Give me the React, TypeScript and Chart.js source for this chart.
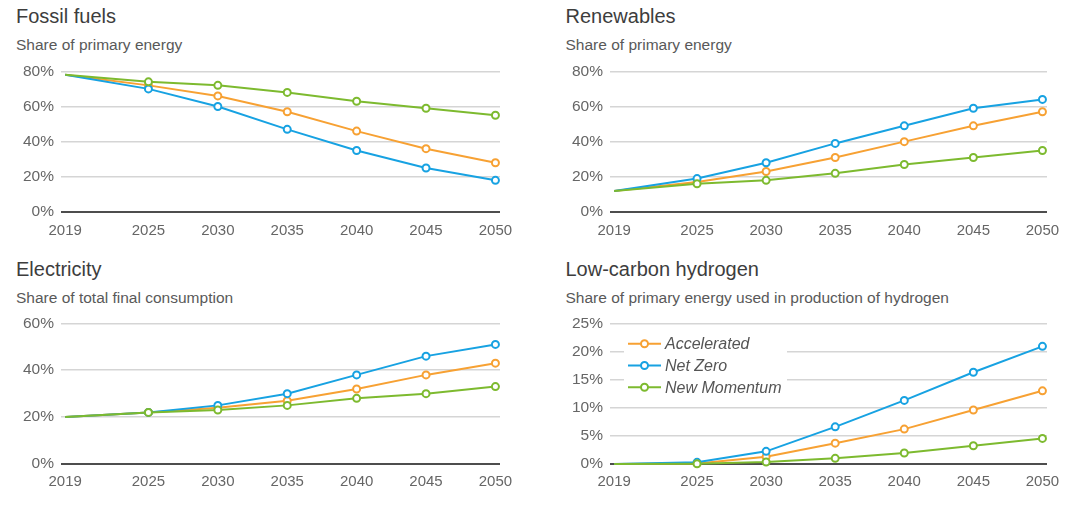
import React, { useEffect, useRef } from "react";
import { Chart, registerables } from "chart.js";

Chart.register(...registerables);

const years = [2019, 2025, 2030, 2035, 2040, 2045, 2050];
const seriesNames = ["Accelerated", "Net Zero", "New Momentum"];
const seriesColors = ["#f7a133", "#17a2e2", "#7dba2f"];

const fossilAccelerated = [78, 72, 66, 57, 46, 36, 28];
const fossilNetZero = [78, 70, 60, 47, 35, 25, 18];
const fossilNewMomentum = [78, 74, 72, 68, 63, 59, 55];

const renewAccelerated = [12, 17, 23, 31, 40, 49, 57];
const renewNetZero = [12, 19, 28, 39, 49, 59, 64];
const renewNewMomentum = [12, 16, 18, 22, 27, 31, 35];

const elecAccelerated = [20, 22, 24, 27, 32, 38, 43];
const elecNetZero = [20, 22, 25, 30, 38, 46, 51];
const elecNewMomentum = [20, 22, 23, 25, 28, 30, 33];

const h2Accelerated = [0, 0.1, 1.3, 3.7, 6.2, 9.6, 13.0];
const h2NetZero = [0, 0.3, 2.25, 6.6, 11.3, 16.3, 20.9];
const h2NewMomentum = [0, 0.05, 0.35, 1.0, 1.95, 3.25, 4.55];

const shareTicks = [0, 20, 40, 60, 80];
const elecTicks = [0, 20, 40, 60];
const h2Ticks = [0, 5, 10, 15, 20, 25];

const FONT = "'Liberation Sans', Arial, sans-serif";

const insetLegend = {
  id: "insetLegend",
  beforeDatasetsDraw(chart: any) {
    const { ctx, chartArea } = chart;
    const l = chartArea.left;
    const t = chartArea.top;
    ctx.save();
    ctx.fillStyle = "#ffffff";
    ctx.fillRect(l + 14, t + 5, 163, 70);
    seriesNames.forEach((name, i) => {
      const y = t + 20.5 + i * 21.7;
      ctx.strokeStyle = seriesColors[i];
      ctx.lineWidth = 2;
      ctx.beginPath();
      ctx.moveTo(l + 18, y);
      ctx.lineTo(l + 51, y);
      ctx.stroke();
      ctx.beginPath();
      ctx.arc(l + 34.5, y, 3.5, 0, Math.PI * 2);
      ctx.fillStyle = "#ffffff";
      ctx.fill();
      ctx.stroke();
      ctx.fillStyle = "#555555";
      ctx.font = "italic 16px " + FONT;
      ctx.textBaseline = "middle";
      ctx.textAlign = "left";
      ctx.fillText(name, l + 55, y + 1);
    });
    ctx.restore();
  },
};

type PanelProps = {
  title: string;
  subtitle: string;
  series: number[][];
  yTicks: number[];
  left: number;
  top: number;
  width: number;
  height: number;
  padTop: number;
  padRight: number;
  yWidth: number;
  xHeight: number;
  xPad: number;
  textLeft: number;
  titleTop: number;
  subtitleTop: number;
  legend?: boolean;
};

function Panel(p: PanelProps) {
  const ref = useRef<HTMLCanvasElement>(null);
  useEffect(() => {
    if (!ref.current) return;
    const yMax = p.yTicks[p.yTicks.length - 1];
    const chart = new Chart(ref.current, {
      type: "line",
      data: {
        datasets: p.series.map((vals, i) => ({
          label: seriesNames[i],
          data: years.map((yr, j) => ({ x: yr, y: vals[j] })),
          borderColor: seriesColors[i],
          backgroundColor: "#ffffff",
          borderWidth: 2,
          pointRadius: (c: any) => (c.dataIndex === 0 ? 0 : 3.5),
          pointBorderWidth: 2,
          pointBorderColor: seriesColors[i],
          pointBackgroundColor: "#ffffff",
          order: 3 - i,
          clip: false as any,
          tension: 0,
        })),
      },
      options: {
        animation: false,
        responsive: false,
        events: [],
        layout: { padding: { top: p.padTop, right: p.padRight, left: 0, bottom: 0 } },
        plugins: { legend: { display: false }, tooltip: { enabled: false } },
        scales: {
          x: {
            type: "linear",
            min: 2018.7,
            max: 2050.33,
            afterBuildTicks: (s: any) => {
              s.ticks = years.map((v) => ({ value: v }));
            },
            afterFit: (s: any) => {
              s.height = p.xHeight;
            },
            grid: { display: false, drawTicks: false },
            border: { display: false },
            ticks: {
              padding: p.xPad,
              maxRotation: 0,
              autoSkip: false,
              color: "#666666",
              font: { family: FONT, size: 15 },
              callback: (v: any) => String(v),
            },
          },
          y: {
            min: 0,
            max: yMax,
            afterBuildTicks: (s: any) => {
              s.ticks = p.yTicks.map((v) => ({ value: v }));
            },
            afterFit: (s: any) => {
              s.width = p.yWidth;
            },
            grid: {
              drawTicks: false,
              color: (c: any) => (c.tick && c.tick.value === 0 ? "#4d4d4d" : "#d5d5d5"),
              lineWidth: (c: any) => (c.tick && c.tick.value === 0 ? 2 : 1.5),
            },
            border: { display: false },
            ticks: {
              padding: 7,
              color: "#666666",
              font: { family: FONT, size: 15.5 },
              callback: (v: any) => v + "%",
            },
          },
        },
      },
      plugins: p.legend ? [insetLegend] : [],
    });
    return () => chart.destroy();
  }, []);

  return (
    <>
      <div
        style={{
          position: "absolute",
          left: p.textLeft,
          top: p.titleTop,
          fontFamily: FONT,
          fontSize: 20,
          lineHeight: "20px",
          color: "#3d3d3d",
          whiteSpace: "nowrap",
        }}
      >
        {p.title}
      </div>
      <div
        style={{
          position: "absolute",
          left: p.textLeft,
          top: p.subtitleTop,
          fontFamily: FONT,
          fontSize: 15.5,
          lineHeight: "15.5px",
          color: "#595959",
          whiteSpace: "nowrap",
        }}
      >
        {p.subtitle}
      </div>
      <canvas
        ref={ref}
        width={p.width}
        height={p.height}
        style={{ position: "absolute", left: p.left, top: p.top, width: p.width, height: p.height }}
      />
    </>
  );
}

export default function App() {
  return (
    <div
      style={{
        position: "absolute",
        left: 0,
        top: 0,
        width: 1087,
        height: 508,
        background: "#ffffff",
        overflow: "hidden",
      }}
    >
      <Panel
        title="Fossil fuels"
        subtitle="Share of primary energy"
        series={[fossilAccelerated, fossilNetZero, fossilNewMomentum]}
        yTicks={shareTicks}
        left={0}
        top={55}
        width={543}
        height={195}
        padTop={16}
        padRight={43}
        yWidth={61}
        xHeight={38}
        xPad={10}
        textLeft={16}
        titleTop={5.8}
        subtitleTop={36.9}
      />
      <Panel
        title="Renewables"
        subtitle="Share of primary energy"
        series={[renewAccelerated, renewNetZero, renewNewMomentum]}
        yTicks={shareTicks}
        left={545}
        top={55}
        width={542}
        height={195}
        padTop={16}
        padRight={40}
        yWidth={65}
        xHeight={38}
        xPad={10}
        textLeft={565.5}
        titleTop={5.8}
        subtitleTop={36.9}
      />
      <Panel
        title="Electricity"
        subtitle="Share of total final consumption"
        series={[elecAccelerated, elecNetZero, elecNewMomentum]}
        yTicks={elecTicks}
        left={0}
        top={307}
        width={543}
        height={201}
        padTop={16}
        padRight={43}
        yWidth={61}
        xHeight={44}
        xPad={9}
        textLeft={16}
        titleTop={259.1}
        subtitleTop={290.2}
      />
      <Panel
        title="Low-carbon hydrogen"
        subtitle="Share of primary energy used in production of hydrogen"
        series={[h2Accelerated, h2NetZero, h2NewMomentum]}
        yTicks={h2Ticks}
        left={545}
        top={307}
        width={542}
        height={201}
        padTop={16}
        padRight={40}
        yWidth={65}
        xHeight={44}
        xPad={9}
        textLeft={565.5}
        titleTop={259.1}
        subtitleTop={290.2}
        legend
      />
    </div>
  );
}
